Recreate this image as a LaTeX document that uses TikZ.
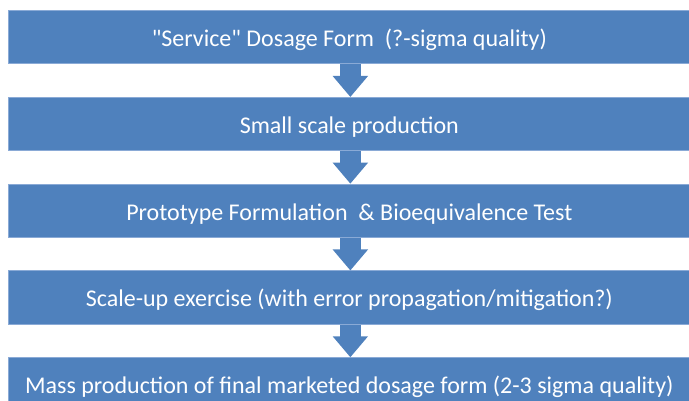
\documentclass[tikz,border=0pt]{standalone}
\usepackage{fontspec}
\setmainfont{Carlito}[Ligatures=TeXOff]
\usetikzlibrary{arrows.meta}
\definecolor{barblue}{HTML}{4F81BD}
\definecolor{baredge}{HTML}{8AAAD6}
\begin{document}
\begin{tikzpicture}[x=1pt,y=-1pt,
  bar/.style={fill=barblue, draw=baredge, line width=0.7pt, text=white,
    minimum width=682pt, minimum height=53.5pt, inner sep=0pt,
    text height=18.6pt, text depth=0pt,
    font=\fontsize{24}{28}\selectfont, anchor=north west},
  flow/.style={draw=barblue, line width=21pt,
    -{Triangle[width=34pt,length=21pt]}}]
\useasboundingbox (0,0) rectangle (689,401);
\clip (0,0) rectangle (689,401);
\node[bar] (b1) at (8,10)  {"Service" Dosage Form\ \ (?-sigma quality)};
\node[bar] (b2) at (8,97)  {Small scale production};
\node[bar] (b3) at (8,183.7) {Prototype Formulation\ \ \& Bioequivalence Test};
\node[bar] (b4) at (8,270.5) {Scale-up exercise (with error propagation/mitigation?)};
\node[bar] (b5) at (8,357.3) {Mass production of final marketed dosage form (2-3 sigma quality)};
\draw[flow] ([xshift=1pt]b1.south) -- ([xshift=1pt]b2.north);
\draw[flow] ([xshift=1pt]b2.south) -- ([xshift=1pt]b3.north);
\draw[flow] ([xshift=1pt]b3.south) -- ([xshift=1pt]b4.north);
\draw[flow] ([xshift=1pt]b4.south) -- ([xshift=1pt]b5.north);
\end{tikzpicture}
\end{document}
